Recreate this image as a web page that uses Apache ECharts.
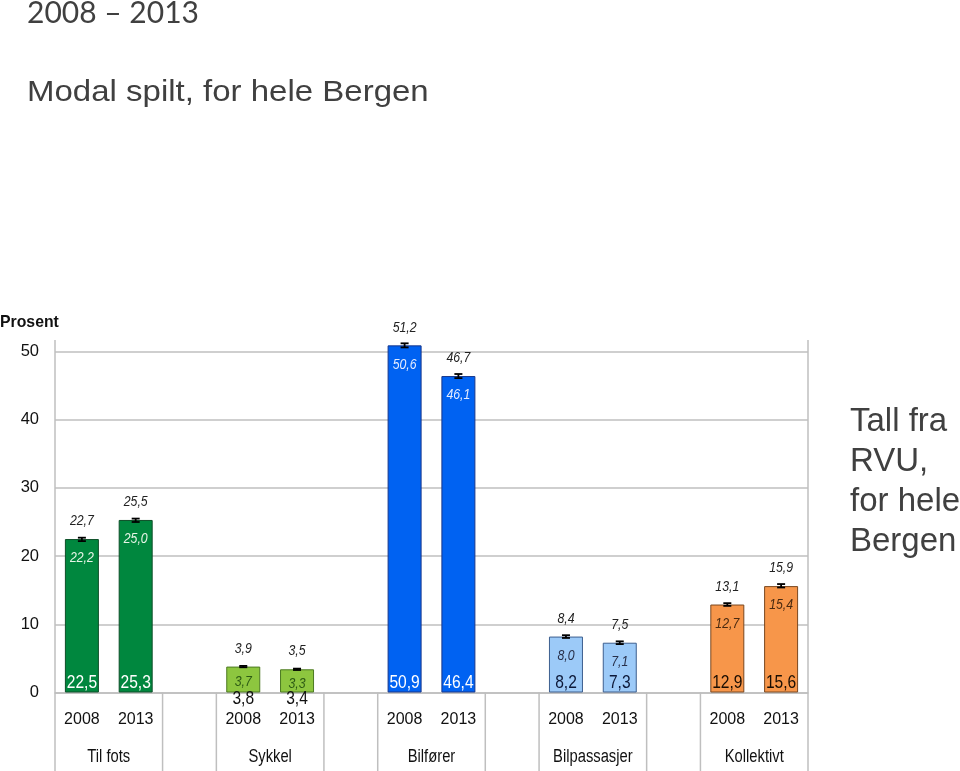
<!DOCTYPE html>
<html>
<head>
<meta charset="utf-8">
<script src="https://cdn.jsdelivr.net/npm/echarts@6/dist/echarts.min.js"></script>
<style>html,body{margin:0;padding:0;background:#fff}#c{width:960px;height:771px}</style>
</head>
<body>
<div id="c"></div>
<script>
// ---- data ----
const groups = ['Til fots', 'Sykkel', 'Bilfører', 'Bilpassasjer', 'Kollektivt'];
const years = ['2008', '2013'];
const values = [22.5, 25.3, 3.8, 3.4, 50.9, 46.4, 8.2, 7.3, 12.9, 15.6];
const lower = [22.2, 25.0, 3.7, 3.3, 50.6, 46.1, 8.0, 7.1, 12.7, 15.4];
const upper = [22.7, 25.5, 3.9, 3.5, 51.2, 46.7, 8.4, 7.5, 13.1, 15.9];
const yTicks = [0, 10, 20, 30, 40, 50];

// ---- styles ----
const SANS = "'Liberation Sans',Arial,sans-serif";
const NX = 0.82; // horizontal squeeze to mimic a narrow face
const fills = ['#00873e', '#8dc63f', '#0062f2', '#9ccaf8', '#f7964a'];
const borders = ['#0d4f28', '#4c7a22', '#18378a', '#3d5f8f', '#7a4820'];
const mainLbl = ['#ffffff', '#111111', '#ffffff', '#0c1838', '#1a0d02'];
const lowLbl = ['#e6f4e6', '#2c5a14', '#e4ecff', '#28304a', '#4a2a10'];

const categories = [];
const barData = [];
const ciData = [];
groups.forEach((g, gi) => {
  years.forEach((y, yi) => {
    const k = gi * 2 + yi;
    const idx = categories.length;
    categories.push(y);
    barData.push({
      value: values[k],
      itemStyle: { color: fills[gi], borderColor: borders[gi], borderWidth: 1 }
    });
    ciData.push([idx, values[k], lower[k], upper[k], gi]);
  });
  if (gi < groups.length - 1) { categories.push(''); barData.push('-'); }
});

const fmt = v => v.toFixed(1).replace('.', ',');
const txt = (x, y, s, o, sx) => ({
  type: 'text', x: x, y: y, scaleX: sx || NX,
  style: Object.assign({ text: s, fontFamily: SANS, align: 'center', verticalAlign: 'middle' }, o)
});

const chart = echarts.init(document.getElementById('c'));
chart.setOption({
  animation: false,
  grid: { left: 55, right: 152, top: 351.5, bottom: 78.5 },
  xAxis: {
    type: 'category',
    data: categories,
    axisLine: { show: true, lineStyle: { color: '#bfbfbf', width: 1.5 } },
    axisTick: { show: false },
    axisLabel: { interval: 0, margin: 19, fontFamily: SANS, fontSize: 16, color: '#111' }
  },
  yAxis: {
    type: 'value',
    min: 0, max: 50, interval: 10,
    axisLine: { show: false },
    axisTick: { show: false },
    axisLabel: { margin: 16, fontFamily: SANS, fontSize: 16.5, color: '#111',
      formatter: v => yTicks.includes(v) ? String(v) : '' },
    splitLine: { lineStyle: { color: '#bfbfbf', width: 1.5 } }
  },
  series: [
    {
      type: 'bar',
      data: barData,
      barWidth: 34,
      clip: false,
      z: 2
    },
    {
      type: 'custom',
      data: ciData,
      clip: false,
      z: 5,
      renderItem: (params, api) => {
        const idx = api.value(0);
        const top = api.coord([idx, api.value(1)]);
        const base = api.coord([idx, 0]);
        const lo = api.coord([idx, api.value(2)]);
        const hi = api.coord([idx, api.value(3)]);
        const gi = api.value(4);
        const x = top[0];
        const cap = 4;
        const ls = { stroke: '#000', lineWidth: 1.8 };
        return {
          type: 'group',
          children: [
            { type: 'line', shape: { x1: x, y1: lo[1], x2: x, y2: hi[1] }, style: ls },
            { type: 'line', shape: { x1: x - cap, y1: lo[1], x2: x + cap, y2: lo[1] }, style: ls },
            { type: 'line', shape: { x1: x - cap, y1: hi[1], x2: x + cap, y2: hi[1] }, style: ls },
            txt(x, top[1] - 18, fmt(api.value(3)), { fontSize: 15, fontStyle: 'italic', fill: '#222' }),
            txt(x, top[1] + (gi === 1 ? 15 : 19), fmt(api.value(2)),
              { fontSize: 15, fontStyle: 'italic', fill: lowLbl[gi] }),
            txt(x, gi === 1 ? base[1] + 6 : base[1] - 10, fmt(api.value(1)),
              { fontSize: 19, fill: mainLbl[gi] })
          ]
        };
      }
    }
  ]
});

// ---- decorations positioned from the axes ----
const px = i => chart.convertToPixel({ xAxisIndex: 0 }, i);
const py = v => chart.convertToPixel({ yAxisIndex: 0 }, v);
const slot = px(1) - px(0);
const y0 = py(0);
const leftX = px(0) - slot / 2;
const rightX = px(categories.length - 1) + slot / 2;
const lineStyle = { stroke: '#bfbfbf', lineWidth: 1.5 };
const g = [];
g.push({ type: 'line', shape: { x1: leftX, y1: 340, x2: leftX, y2: 771 }, style: lineStyle });
g.push({ type: 'line', shape: { x1: rightX, y1: 340, x2: rightX, y2: 771 }, style: lineStyle });
groups.forEach((name, gi) => {
  const i0 = gi * 3;
  const cx = (px(i0) + px(i0 + 1)) / 2;
  g.push(txt(cx, 757, name, { fontSize: 18, fill: '#111' }));
  if (gi < groups.length - 1) {
    const xa = px(i0 + 1) + slot / 2;
    const xb = px(i0 + 2) + slot / 2;
    g.push({ type: 'line', shape: { x1: xa, y1: y0, x2: xa, y2: 771 }, style: lineStyle });
    g.push({ type: 'line', shape: { x1: xb, y1: y0, x2: xb, y2: 771 }, style: lineStyle });
  }
});
g.push(txt(0, 322, 'Prosent', { fontSize: 17, fontWeight: 'bold', fill: '#111', align: 'left' }, 0.93));
g.push({ type: 'text', x: 27, y: 13, style: { text: '2008 – 2013', fontFamily: 'Lato, sans-serif',
  fontSize: 30, fill: '#404040', verticalAlign: 'middle' } });
g.push({ type: 'text', x: 27, y: 93, scaleX: 1.1, style: { text: 'Modal spilt, for hele Bergen', fontFamily: SANS,
  fontSize: 30, fill: '#404040', verticalAlign: 'middle' } });
g.push({ type: 'text', x: 850, y: 402, style: { text: 'Tall fra\nRVU,\nfor hele\nBergen', fontFamily: SANS,
  fontSize: 33, lineHeight: 40, fill: '#404040', verticalAlign: 'top' } });
chart.setOption({ graphic: g });
</script>
</body>
</html>
